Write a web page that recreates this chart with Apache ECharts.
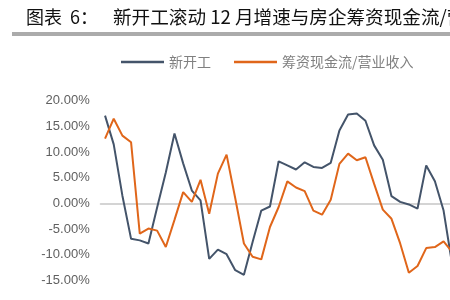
<!DOCTYPE html>
<html>
<head>
<meta charset="utf-8">
<script src="https://cdn.jsdelivr.net/npm/echarts@6/dist/echarts.min.js"></script>
<style>
html,body{margin:0;padding:0;background:#fff;overflow:hidden;width:450px;height:300px;}
#c{width:470px;height:330px;}
</style>
</head>
<body>
<div id="c"></div>
<script>
var categories = ['P1','P2','P3','P4','P5','P6','P7','P8','P9','P10','P11','P12','P13','P14','P15','P16','P17','P18','P19','P20','P21','P22','P23','P24','P25','P26','P27','P28','P29','P30','P31','P32','P33','P34','P35','P36','P37','P38','P39','P40','P41'];
var newStarts = [17.1, 11.5, 1.5, -6.9, -7.2, -7.8, -0.8, 6.0, 13.6, 7.8, 2.5, 0.6, -10.8, -9.0, -9.9, -13.0, -13.9, -7.5, -1.4, -0.6, 8.2, 7.4, 6.6, 8.0, 7.1, 6.9, 7.9, 14.2, 17.3, 17.5, 16.1, 11.3, 8.5, 1.4, 0.3, -0.2, -1.0, 7.4, 4.3, -1.4, -12.0];
var financingRatio = [12.6, 16.5, 13.2, 11.9, -5.9, -4.9, -5.3, -8.5, -3.2, 2.2, 0.3, 4.6, -2.0, 5.8, 9.5, 1.0, -7.8, -10.4, -10.9, -4.6, -0.7, 4.3, 3.1, 2.4, -1.4, -2.2, 0.7, 7.7, 9.7, 8.4, 9.0, 3.8, -1.2, -3.0, -7.8, -13.5, -12.2, -8.7, -8.5, -7.4, -9.5];
var seriesNames = ['新开工', '筹资现金流/营业收入'];
var titlePrefix = '图表  6：';
var titleText = '新开工滚动 12 月增速与房企筹资现金流/营业收入';

var chart = echarts.init(document.getElementById('c'), null, {renderer: 'canvas'});
var font = '"Noto Sans CJK SC", "Noto Sans", sans-serif';
chart.setOption({
  animation: false,
  backgroundColor: '#fff',
  title: [
    {text: titlePrefix, left: 21, top: 3, textStyle: {fontFamily: font, fontSize: 18, fontWeight: 'normal', color: '#111'}},
    {text: titleText, left: 108, top: 3, textStyle: {fontFamily: font, fontSize: 18.6, fontWeight: 'normal', color: '#111'}}
  ],
  graphic: [
    {type: 'rect', left: 12, top: 32, shape: {width: 470, height: 4}, style: {fill: '#ababab'}}
  ],
  legend: {
    left: 116,
    top: 50,
    icon: 'rect',
    itemWidth: 43,
    itemHeight: 2.5,
    itemGap: 23,
    textStyle: {fontFamily: font, fontSize: 14, color: '#808080'},
    data: seriesNames
  },
  grid: {left: 100.7, top: 100.7, right: 13.4, bottom: 23.9, containLabel: false},
  xAxis: {
    type: 'category',
    data: categories,
    boundaryGap: true,
    axisLine: {onZero: true, lineStyle: {color: '#d4d4d4', width: 2}},
    axisTick: {show: false},
    axisLabel: {show: false},
    splitLine: {show: false}
  },
  yAxis: {
    type: 'value',
    min: -20,
    max: 20,
    interval: 5,
    axisLine: {show: false},
    axisTick: {show: false},
    splitLine: {show: false},
    axisLabel: {
      margin: 11,
      fontFamily: '"Liberation Sans", Arial, sans-serif',
      fontSize: 13,
      color: '#606060',
      formatter: function (v) { return v.toFixed(2) + '%'; }
    }
  },
  series: [
    {name: seriesNames[0], type: 'line', data: newStarts, symbol: 'none', lineStyle: {color: '#44546a', width: 2}, itemStyle: {color: '#44546a'}},
    {name: seriesNames[1], type: 'line', data: financingRatio, symbol: 'none', lineStyle: {color: '#e0661a', width: 2}, itemStyle: {color: '#e0661a'}}
  ]
});
</script>
</body>
</html>
